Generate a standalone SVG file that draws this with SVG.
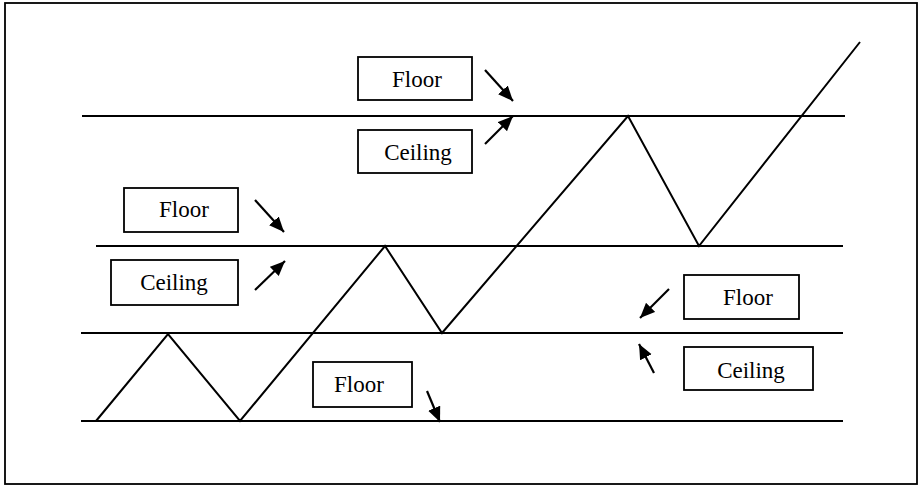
<svg xmlns="http://www.w3.org/2000/svg" width="921" height="488" viewBox="0 0 921 488">
<style>
.box{fill:#fff;stroke:#000;stroke-width:1.8}
.lbl{font-family:"Liberation Serif","Times New Roman",serif;font-size:23px;fill:#000;text-anchor:middle}
.ln{stroke:#000;stroke-width:2;fill:none}
.arr{stroke:#000;stroke-width:2.2;fill:none;marker-end:url(#ah)}
</style>
<defs>
<marker id="ah" markerUnits="userSpaceOnUse" markerWidth="18" markerHeight="14" refX="15" refY="6.5" orient="auto">
<path d="M0,0 L15,6.5 L0,13 Z" fill="#000"/>
</marker>
</defs>
<rect x="5" y="3" width="912" height="481" fill="#fff" stroke="#000" stroke-width="1.8"/>
<g id="levels">
<line class="ln" x1="82" y1="116" x2="845" y2="116"/>
<line class="ln" x1="96" y1="246" x2="843" y2="246"/>
<line class="ln" x1="81" y1="333" x2="843" y2="333"/>
<line class="ln" x1="81" y1="421" x2="843" y2="421"/>
</g>
<g id="price">
<polyline class="ln" points="96,421 168,334 240,421 385,246 442,333 628,116 699,246 860,42"/>
</g>
<g id="floor-top"><rect class="box" x="358" y="57" width="114" height="43"/><text class="lbl" x="417" y="87">Floor</text></g>
<g id="ceiling-top"><rect class="box" x="358" y="130" width="114" height="43"/><text class="lbl" x="418" y="160">Ceiling</text></g>
<g id="floor-mid"><rect class="box" x="124" y="188" width="114" height="44"/><text class="lbl" x="184" y="217">Floor</text></g>
<g id="ceiling-mid"><rect class="box" x="111" y="260" width="127" height="45"/><text class="lbl" x="174" y="290">Ceiling</text></g>
<g id="floor-right"><rect class="box" x="684" y="275" width="115" height="44"/><text class="lbl" x="748" y="305">Floor</text></g>
<g id="ceiling-right"><rect class="box" x="684" y="347" width="129" height="43"/><text class="lbl" x="751" y="378">Ceiling</text></g>
<g id="floor-bottom"><rect class="box" x="313" y="362" width="99" height="45"/><text class="lbl" x="359" y="392">Floor</text></g>
<g id="connectors">
<line class="arr" x1="485" y1="70" x2="513" y2="101"/>
<line class="arr" x1="485" y1="144" x2="513" y2="116"/>
<line class="arr" x1="255" y1="200" x2="284" y2="232"/>
<line class="arr" x1="255" y1="290" x2="285" y2="261"/>
<line class="arr" x1="669" y1="289" x2="640" y2="318"/>
<line class="arr" x1="654" y1="373" x2="639" y2="344"/>
<line class="arr" x1="427" y1="391" x2="440" y2="422"/>
</g>
</svg>
